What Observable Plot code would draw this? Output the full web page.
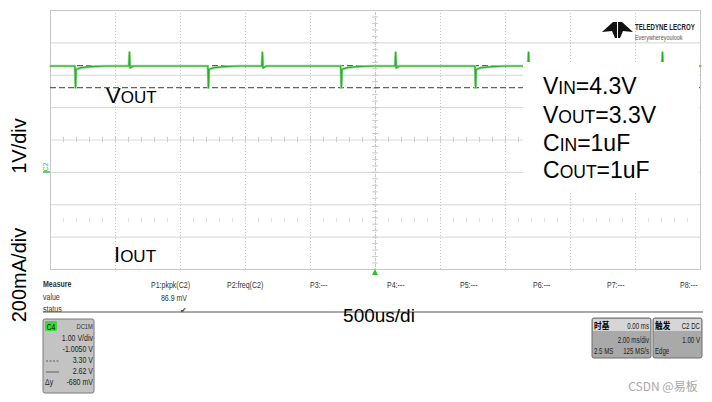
<!DOCTYPE html>
<html>
<head>
<meta charset="utf-8">
<script src="https://cdn.jsdelivr.net/npm/d3@7"></script>
<script src="https://cdn.jsdelivr.net/npm/@observablehq/plot@0.6"></script>
<style>
  html, body { margin: 0; padding: 0; background: #fff; }
  svg { display: block; }
</style>
</head>
<body>
<div id="chart"></div>
<script>
// ---- Data ----
// time in ms (2 ms/div, 10 div), voltage in V (1 V/div, offset -1.005 V)
const traceTime = [-10, -9.25, -9.23, -9.21, -9.05, -8.75, -8.3, -7.59, -7.57, -7.55, -7.45,
  -5.16, -5.14, -5.12, -4.96, -4.66, -4.2, -3.50, -3.48, -3.46, -3.36,
  -1.07, -1.05, -1.03, -0.87, -0.57, -0.1, 0.60, 0.62, 0.64, 0.74,
  3.06, 3.08, 3.10, 3.26, 3.56, 4.0, 4.69, 4.71, 4.73, 4.83,
  7.15, 7.17, 7.19, 7.35, 7.65, 8.1, 8.81, 8.83, 8.85, 8.95, 10];
const traceVolt = [3.29, 3.29, 2.62, 3.19, 3.24, 3.27, 3.29, 3.29, 3.71, 3.23, 3.29,
  3.29, 2.62, 3.19, 3.24, 3.27, 3.29, 3.29, 3.71, 3.23, 3.29,
  3.29, 2.62, 3.19, 3.24, 3.27, 3.29, 3.29, 3.71, 3.23, 3.29,
  3.29, 2.62, 3.19, 3.24, 3.27, 3.29, 3.29, 3.71, 3.23, 3.29,
  3.29, 2.62, 3.19, 3.24, 3.27, 3.29, 3.29, 3.71, 3.23, 3.29, 3.29];
const cursorVolts = [3.30, 2.62];
const offsetVolt = 1.005;           // screen centre
const timeDomain = [-10, 10];
const voltDomain = [offsetVolt - 4, offsetVolt + 4];
const gridTimes = [-8, -6, -4, -2, 0, 2, 4, 6, 8];
const gridVolts = [-3, -2, -1, 1, 2, 3].map(k => offsetVolt + k);
const paramLines = ["VIN=4.3V", "VOUT=3.3V", "CIN=1uF", "COUT=1uF"];
const measureSlots = ["P1:pkpk(C2)", "P2:freq(C2)", "P3:---", "P4:---", "P5:---", "P6:---", "P7:---", "P8:---"];
const measureValue = "86.9 mV";
const c4Rows = ["1.00 V/div", "-1.0050 V", "3.30 V", "2.62 V", "-680 mV"];

const trace = traceTime.map((t, i) => ({t, v: traceVolt[i]}));
const minorVolts = d3.range(-20, 21).map(k => offsetVolt + k * 0.2);
const minorTimes = d3.range(-25, 26).map(k => k * 0.4);

const svgNode = Plot.plot({
  width: 712, height: 402,
  marginLeft: 50, marginRight: 12, marginTop: 10, marginBottom: 133,
  x: {domain: timeDomain, axis: null},
  y: {domain: voltDomain, axis: null},
  style: {background: "#fff"},
  marks: [
    Plot.ruleX(gridTimes, {stroke: "#c4c4c4", strokeDasharray: "1,2", strokeWidth: 1}),
    Plot.ruleY(gridVolts, {stroke: "#d4d4d4", strokeWidth: 1}),
    Plot.ruleY([offsetVolt], {stroke: "#dadada"}),
    Plot.ruleX(minorTimes, {y1: offsetVolt - 0.08, y2: offsetVolt + 0.08, stroke: "#cacaca"}),
    Plot.ruleX(minorTimes, {y1: offsetVolt - 2.54, y2: offsetVolt - 2.42, stroke: "#dedede"}),
    Plot.ruleX([0], {stroke: "#c4c4c4", strokeDasharray: "1,1"}),
    Plot.ruleY(minorVolts, {x1: -0.09, x2: 0.09, stroke: "#cacaca"}),
    Plot.frame({stroke: "#c8c8c8"}),
    Plot.ruleY(cursorVolts, {stroke: "#3a3a3a", strokeDasharray: "6,3", strokeWidth: 1}),
    Plot.line(trace, {x: "t", y: "v", stroke: "#9be09b", strokeWidth: 2.6}),
    Plot.line(trace, {x: "t", y: "v", stroke: "#2aae2a", strokeWidth: 1.2})
  ]
});
document.getElementById("chart").appendChild(svgNode);

const svg = d3.select(svgNode);
const SANS = "'Liberation Sans', Arial, sans-serif";

function txt(x, y, s, o = {}) {
  const t = svg.append("text").text(s)
    .attr("font-family", o.family || SANS)
    .attr("font-size", o.size || 10)
    .attr("fill", o.fill || "#000")
    .attr("text-anchor", o.anchor || "start");
  if (o.weight) t.attr("font-weight", o.weight);
  if (o.rotate) t.attr("x", x).attr("y", y).attr("transform", `rotate(${o.rotate},${x},${y})`);
  else if (o.sx) t.attr("x", 0).attr("y", 0).attr("transform", `translate(${x},${y}) scale(${o.sx},1)`);
  else t.attr("x", x).attr("y", y);
  return t;
}
// sub-capital label like V<small>OUT</small>
function capLabel(x, y, big, small, rest, bigSize, smallSize) {
  const t = svg.append("text").attr("x", x).attr("y", y)
    .attr("text-anchor", "start")
    .attr("font-family", SANS).attr("fill", "#000");
  t.append("tspan").attr("font-size", bigSize).text(big);
  t.append("tspan").attr("font-size", smallSize).text(small);
  if (rest) t.append("tspan").attr("font-size", bigSize).text(rest);
  return t;
}

// white annotation box covering the right part of the screen
svg.append("rect").attr("x", 523).attr("y", 62).attr("width", 176).attr("height", 131).attr("fill", "#fff");

// parameters text
const parsed = paramLines.map(s => s.match(/^([VC])(IN|OUT)(=.*)$/));
const baselines = [94, 123, 151, 178];
parsed.forEach((m, i) => capLabel(543, baselines[i], m[1], m[2], m[3], 23, 17.5));

// trace labels
capLabel(106, 103, "V", "OUT", null, 22, 17);
capLabel(114, 262, "I", "OUT", null, 22, 17);

// green channel marker
txt(48, 167, "C2", {size: 7, fill: "#4cc24c", rotate: -90, anchor: "middle"});
svg.append("line").attr("x1", 43).attr("x2", 50).attr("y1", 172).attr("y2", 172).attr("stroke", "#3cc03c").attr("stroke-width", 1.5);
// trigger marker
svg.append("path").attr("d", "M372,275 L375,269 L378,275 Z").attr("fill", "#2fc02f");

// logo
svg.append("path").attr("d", "M602,32 L613,22 L617,22 L617,38 L615,38 L612,31 Z M633,32 L622,22 L618,22 L618,38 L620,38 L623,31 Z").attr("fill", "#111");
txt(635, 30, "TELEDYNE LECROY", {size: 9, weight: "bold", fill: "#222", sx: 0.68});
txt(635, 40, "Everywhereyoulook", {size: 8, fill: "#555", sx: 0.68});

// axis labels
txt(26, 146, "1V/div", {size: 20, rotate: -90, anchor: "middle"});
txt(26, 275, "200mA/div", {size: 20, rotate: -90, anchor: "middle"});

// measure table
const small = {size: 9, fill: "#333", sx: 0.78};
txt(43, 287, "Measure", {...small, weight: "bold"});
txt(43, 300, "value", small);
txt(43, 312, "status", small);
const slotX = [151, 227, 310, 387, 460, 533, 607, 680];
measureSlots.forEach((s, i) => txt(slotX[i], 288, s, small));
txt(187, 301, measureValue, {...small, anchor: "end"});
txt(183, 313, "\u2714", {size: 8, fill: "#444", anchor: "middle"});

// separator line and timebase label
svg.append("line").attr("x1", 43).attr("x2", 703).attr("y1", 312).attr("y2", 312).attr("stroke", "#555");
txt(379, 322, "500us/di", {size: 19, anchor: "middle"});

// C4 descriptor box
svg.append("rect").attr("x", 43).attr("y", 319).attr("width", 51).attr("height", 74).attr("rx", 2)
  .attr("fill", "#c3c3c3").attr("stroke", "#7a7a7a");
svg.append("rect").attr("x", 45).attr("y", 321).attr("width", 12).attr("height", 10).attr("rx", 1).attr("fill", "#35de35");
txt(51, 329.5, "C4", {size: 9, anchor: "middle", fill: "#000", sx: 0.75});
txt(93, 329, "DC1M", {...small, size: 7.5, anchor: "end"});
const rowY = [341, 352, 363, 374, 385];
c4Rows.forEach((s, i) => txt(93, rowY[i], s, {...small, anchor: "end", fill: "#222"}));
svg.append("line").attr("x1", 46).attr("x2", 59).attr("y1", 361).attr("y2", 361).attr("stroke", "#444").attr("stroke-width", 0.8).attr("stroke-dasharray", "2,1.5");
svg.append("line").attr("x1", 46).attr("x2", 59).attr("y1", 372).attr("y2", 372).attr("stroke", "#444").attr("stroke-width", 0.8);
txt(45, 385, "\u0394y", {...small, fill: "#222"});

// timebase & trigger boxes
function scopeBox(x, w, title, head, r1, r2l, r2r) {
  svg.append("rect").attr("x", x).attr("y", 318).attr("width", w).attr("height", 40).attr("rx", 2)
    .attr("fill", "#a9a9a9").attr("stroke", "#6e6e6e");
  svg.append("rect").attr("x", x + 1).attr("y", 319).attr("width", w - 2).attr("height", 12).attr("fill", "#d6d6d6");
  txt(x + 2, 329, title, {size: 9, family: "'Noto Sans CJK SC', sans-serif", weight: "bold", sx: 0.85});
  const s = {size: 8.5, fill: "#222", sx: 0.72};
  txt(x + w - 2, 328.5, head, {...s, anchor: "end"});
  txt(x + w - 2, 343, r1, {...s, anchor: "end"});
  if (r2l) txt(x + 2, 354, r2l, s);
  if (r2r) txt(x + w - 2, 354, r2r, {...s, anchor: "end"});
}
scopeBox(592, 59, "时基", "0.00 ms", "2.00 ms/div", "2.5 MS", "125 MS/s");
scopeBox(653, 49, "触发", "C2 DC", "1.00 V", "Edge", null);

// watermark
txt(663, 391, "CSDN @易板", {size: 12, family: "'Noto Sans CJK SC', sans-serif", fill: "#a8a8a8", anchor: "middle"});
</script>
</body>
</html>
